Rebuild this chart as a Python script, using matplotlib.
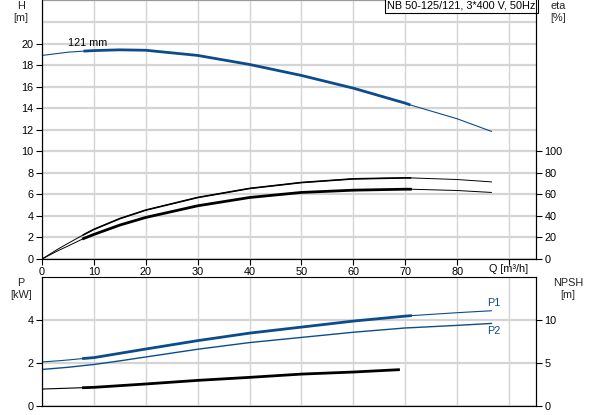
import numpy as np
import matplotlib.pyplot as plt

plt.rcParams['font.family'] = ['Liberation Sans', 'DejaVu Sans']
plt.rcParams['font.size'] = 7.8

# pump curves
q = [0, 3, 5, 8, 10, 15, 20, 30, 40, 50, 60, 70, 71, 80, 86.6]
head = [18.9, 19.08, 19.2, 19.3, 19.35, 19.42, 19.38, 18.9, 18.06, 17.04, 15.86, 14.47, 14.3, 13.02, 11.85]
eta_pump = [0, 9.0, 14.5, 22.5, 27.5, 37.5, 45.4, 57.1, 65.5, 71.0, 74.4, 75.3, 75.3, 73.8, 71.6]
eta_total = [0, 7.5, 12, 19, 22.8, 31.5, 38.6, 49.4, 57.1, 61.8, 63.9, 64.8, 64.8, 63.6, 61.8]
p1 = [2.05, 2.1, 2.14, 2.21, 2.25, 2.45, 2.65, 3.04, 3.39, 3.67, 3.95, 4.18, 4.2, 4.34, 4.43]
p2 = [1.70, 1.76, 1.80, 1.88, 1.93, 2.1, 2.28, 2.64, 2.95, 3.19, 3.43, 3.63, 3.64, 3.75, 3.84]
q_npsh = [0, 8, 10, 20, 30, 40, 50, 60, 68.7]
npsh = [1.97, 2.13, 2.17, 2.56, 2.98, 3.33, 3.71, 3.95, 4.22]

q_min, q_max = 8, 71  # operating range (thick part)
blue = '#0d4c8b'
grid_c = '#d4d4d4'

W, Hpx = 593, 415
fig = plt.figure(figsize=(W/100, Hpx/100), dpi=100)

ax_h = fig.add_axes([42/W, 1-259/Hpx, 494/W, 258.5/Hpx])
ax_e = ax_h.twinx()
ax_p = fig.add_axes([42/W, 1-406/Hpx, 494/W, 129/Hpx])
ax_n = ax_p.twinx()

q = np.array(q)
op = (q >= q_min) & (q <= q_max)
qn = np.array(q_npsh)
opn = qn >= q_min

def style(ax, ymax, yt, yminor=()):
    ax.set_xlim(0, 95.2)
    ax.set_ylim(0, ymax)
    ax.set_xticks(np.arange(0, 100, 10))
    ax.set_yticks(yt)
    ax.set_yticks(yminor, minor=True)
    ax.grid(True, axis='x', color=grid_c, lw=1)
    ax.grid(True, axis='y', which='both', color=grid_c, lw=1.6)
    ax.set_axisbelow(True)
    ax.tick_params(length=4, width=0.8, pad=2, colors='black')
    ax.tick_params(which='minor', length=0)
    ax.spines['top'].set_color('#9a9a9a')
    ax.spines['bottom'].set_color('black')

# head
style(ax_h, 24, np.arange(0, 21, 2), [22, 24])
ax_h.set_xticklabels([str(v) for v in range(0, 90, 10)] + [''])
ax_h.plot(q, head, color=blue, lw=0.8)
ax_h.plot(q[op], np.array(head)[op], color=blue, lw=2.0, solid_capstyle='butt')
ax_h.text(5, 19.55, '121 mm', ha='left', va='bottom')
ax_h.text(90, -0.5, 'Q [m³/h]', ha='center', va='top')
ax_h.text(536/W - 0.001, 0.998, 'NB 50-125/121, 3*400 V, 50Hz', transform=fig.transFigure,
          ha='right', va='top',
          bbox=dict(boxstyle='square,pad=0.22', fc='white', ec='black', lw=0.8))

# efficiency
ax_e.set_ylim(0, 240)
ax_e.set_yticks(np.arange(0, 101, 20))
ax_e.tick_params(length=4, width=0.8, pad=2)
ax_e.plot(q, eta_pump, color='black', lw=0.7)
ax_e.plot(q[op], np.array(eta_pump)[op], color='black', lw=1.2)
ax_e.plot(q, eta_total, color='black', lw=0.7)
ax_e.plot(q[op], np.array(eta_total)[op], color='black', lw=2.0)

# power
style(ax_p, 6, [0, 2, 4])
ax_p.set_xticklabels([])
ax_p.tick_params(axis='x', length=0)
ax_p.spines['top'].set_color('black')
ax_p.spines['bottom'].set_color('#9a9a9a')
ax_p.plot(q, p1, color=blue, lw=0.8)
ax_p.plot(q[op], np.array(p1)[op], color=blue, lw=2.0)
ax_p.plot(q, p2, color=blue, lw=1.0)
ax_p.text(85.7, p1[-1] + 0.12, 'P1', color=blue, va='bottom')
ax_p.text(85.7, p2[-1] - 0.12, 'P2', color=blue, va='top')

# npsh
ax_n.set_ylim(0, 15)
ax_n.set_yticks([0, 5, 10])
ax_n.tick_params(length=4, width=0.8, pad=2)
ax_n.plot(qn, npsh, color='black', lw=0.8)
ax_n.plot(qn[opn], np.array(npsh)[opn], color='black', lw=2.0)

for ax in (ax_e, ax_n):
    ax.spines['top'].set_visible(False)

# axis titles
lab = dict(ha='center', va='top', color='#222222', linespacing=1.3)
fig.text(21/W, 1-1/Hpx, 'H\n[m]', **lab)
fig.text(558/W, 1-1/Hpx, 'eta\n[%]', **lab)
fig.text(21/W, 1-278/Hpx, 'P\n[kW]', **lab)
fig.text(568/W, 1-278/Hpx, 'NPSH\n[m]', **lab)

fig.savefig('out.png', dpi=100)
